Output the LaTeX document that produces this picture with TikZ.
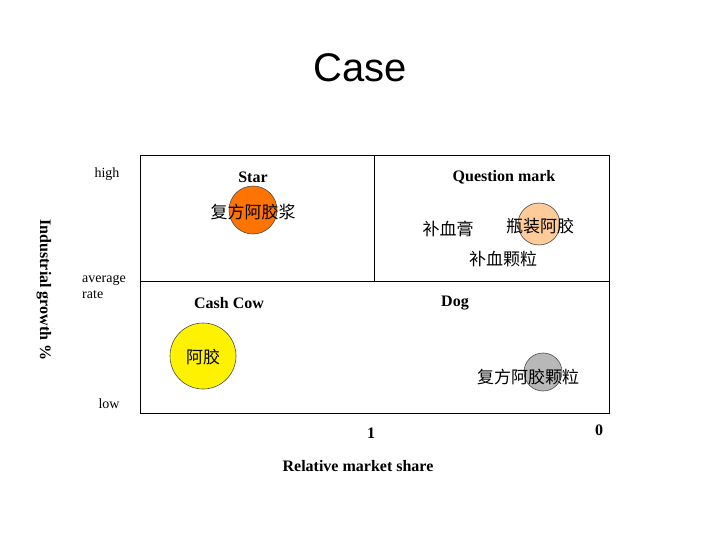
\documentclass[tikz,border=0pt]{standalone}
\usepackage{fontspec}
\setmainfont{Liberation Serif}
\newfontfamily\cjk{Noto Sans CJK SC}
\newfontfamily\arialf{Liberation Sans}
\begin{document}
\begin{tikzpicture}[x=1pt,y=-1pt,
  lab/.style={font=\bfseries\fontsize{16}{18}\selectfont},
  zh/.style={font=\cjk\fontsize{17}{19}\selectfont},
  sm/.style={font=\fontsize{14}{16}\selectfont},
  bub/.style={circle,draw=black!70,line width=0.6pt,inner sep=0pt}]
\useasboundingbox (0,0) rectangle (720,540);
\node[font=\arialf\fontsize{40}{44}\selectfont] (title) at (360,68) {Case};
\draw[line width=0.8pt] (140,155) rectangle (609,413);
\coordinate (mt) at (374,155); \coordinate (mb) at (374,281);
\coordinate (ml) at (140,281); \coordinate (mr) at (609,281);
\draw[line width=0.8pt] (mt) -- (mb);
\draw[line width=0.8pt] (ml) -- (mr);
\node[bub,fill=orange!90!red,minimum size=48pt] (c1) at (253,210) {};
\node[bub,fill=orange!40,minimum size=42pt] (c2) at (539,224) {};
\node[bub,fill=yellow,minimum size=66pt] (c3) at (203,356) {};
\node[bub,fill=black!28,minimum size=38pt] (c4) at (543,372) {};
\node[lab] (star) at (253,177) {Star};
\node[lab] (qm) at (504,177) {Question mark};
\node[lab] (cc) at (229,303) {Cash Cow};
\node[lab] (dog) at (455,303) {Dog};
\node[zh] (t1) at (253,212) {复方阿胶浆};
\node[zh] (t2) at (448,229) {补血膏};
\node[zh] (t3) at (540,226) {瓶装阿胶};
\node[zh] (t4) at (503,259) {补血颗粒};
\node[zh] (t5) at (203,357) {阿胶};
\node[zh] (t6) at (528,377) {复方阿胶颗粒};
\node[sm] (high) at (107,174) {high};
\node[sm,align=left] (avg) at (104,287) {average\\rate};
\node[sm] (low) at (109,404) {low};
\node[lab,rotate=-90] (yl) at (44,290) {Industrial growth \%};
\node[lab] (one) at (371,433) {1};
\node[lab] (zero) at (599,430) {0};
\node[lab] (xl) at (358,466) {Relative market share};
\end{tikzpicture}
\end{document}
